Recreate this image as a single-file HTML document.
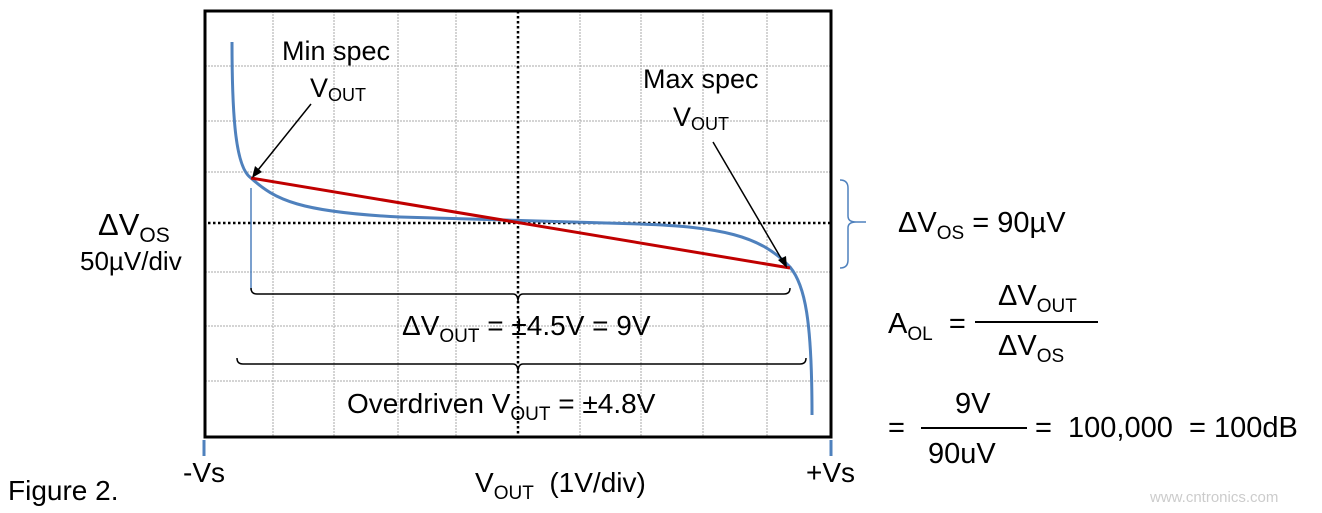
<!DOCTYPE html>
<html><head><meta charset="utf-8"><style>
body{margin:0;background:#fff;}
svg{display:block;font-family:"Liberation Sans",sans-serif;}
text{white-space:pre;}
</style></head><body>
<svg width="1322" height="513" viewBox="0 0 1322 513">
<rect width="1322" height="513" fill="#fff"/>
<g stroke="#aaa" stroke-width="1" stroke-dasharray="2,1">
<line x1="273" y1="11" x2="273" y2="436"/><line x1="334" y1="11" x2="334" y2="436"/>
<line x1="398" y1="11" x2="398" y2="436"/><line x1="456" y1="11" x2="456" y2="436"/>
<line x1="580" y1="11" x2="580" y2="436"/><line x1="641" y1="11" x2="641" y2="436"/>
<line x1="703" y1="11" x2="703" y2="436"/><line x1="767" y1="11" x2="767" y2="436"/>
<line x1="205" y1="66" x2="831" y2="66"/><line x1="205" y1="121" x2="831" y2="121"/>
<line x1="205" y1="172" x2="831" y2="172"/><line x1="205" y1="272" x2="831" y2="272"/>
<line x1="205" y1="326" x2="831" y2="326"/><line x1="205" y1="381" x2="831" y2="381"/>
</g>
<g stroke="#000" stroke-width="2.5" stroke-dasharray="2.5,2.5">
<line x1="518" y1="11" x2="518" y2="436"/><line x1="208" y1="223" x2="831" y2="223"/>
</g>
<rect x="205" y="11" width="626" height="426" fill="none" stroke="#000" stroke-width="3"/>
<line x1="204" y1="440" x2="204" y2="456" stroke="#4f81bd" stroke-width="3"/>
<line x1="831" y1="440" x2="831" y2="456" stroke="#4f81bd" stroke-width="3"/>
<line x1="251" y1="188" x2="251" y2="290" stroke="#4f81bd" stroke-width="1.5"/>
<path d="M232,42 C232,120 236,168 251,178 C275,200 300,212 400,217 C480,220 560,222 640,224 C720,227 760,235 790,267 C805,285 812,320 812,415" fill="none" stroke="#4f81bd" stroke-width="3"/>
<line x1="251" y1="178" x2="790" y2="268" stroke="#c00000" stroke-width="3"/>
<g fill="none" stroke="#000" stroke-width="1.5">
<path d="M251,288 q0,6 6,6 L513,294 q5,0 5,8 q0,-8 5,-8 L784,294 q6,0 6,-6"/>
<path d="M237,358 q0,6 6,6 L513,364 q5,0 5,8 q0,-8 5,-8 L800,364 q6,0 6,-6"/>
<line x1="311" y1="104" x2="254" y2="175"/>
<line x1="713" y1="142" x2="785" y2="265"/>
</g>
<path d="M252,178 l3,-12 l7,6 z" fill="#000"/>
<path d="M787,268 l-9,-8 l8,-4 z" fill="#000"/>
<path d="M840,180 q8,0 8,8 v28 q0,6 8,6 h10 h-10 q-8,0 -8,6 v32 q0,8 -8,8" fill="none" stroke="#4f81bd" stroke-width="1.5"/>
<g fill="#000" font-size="27">
<text x="282" y="60">Min spec</text>
<text x="310" y="97">V<tspan font-size="18" dy="4">OUT</tspan></text>
<text x="643" y="88">Max spec</text>
<text x="673" y="126">V<tspan font-size="18" dy="4">OUT</tspan></text>
<text x="402" y="335" font-size="28">ΔV<tspan font-size="19" dy="7">OUT</tspan><tspan dy="-7"> = ±4.5V = 9V</tspan></text>
<text x="347" y="413" font-size="28">Overdriven V<tspan font-size="19" dy="7">OUT</tspan><tspan dy="-7"> = ±4.8V</tspan></text>
<text x="98" y="235" font-size="31">ΔV<tspan font-size="21" dy="7">OS</tspan></text>
<text x="80" y="270" font-size="26">50µV/div</text>
<text x="183" y="482" font-size="28">-Vs</text>
<text x="806" y="482" font-size="28">+Vs</text>
<text x="475" y="492" font-size="28">V<tspan font-size="19" dy="7">OUT</tspan><tspan dy="-7">  (1V/div)</tspan></text>
<text x="8" y="500" font-size="28">Figure 2.</text>
<text x="898" y="232" font-size="29">ΔV<tspan font-size="19" dy="7">OS</tspan><tspan dy="-7"> = 90µV</tspan></text>
<text x="888" y="333" font-size="29">A<tspan font-size="19" dy="7">OL</tspan><tspan dy="-7">  =</tspan></text>
<text x="998" y="305" font-size="29">ΔV<tspan font-size="19" dy="7">OUT</tspan></text>
<text x="998" y="355" font-size="29">ΔV<tspan font-size="19" dy="7">OS</tspan></text>
<text x="888" y="437" font-size="29">=</text>
<text x="955" y="413" font-size="29">9V</text>
<text x="928" y="463" font-size="29">90uV</text>
<text x="1035" y="437" font-size="29">=  100,000  = 100dB</text>
<text x="1150" y="502" font-size="15" fill="#ccc">www.cntronics.com</text>
</g>
<line x1="975" y1="322" x2="1098" y2="322" stroke="#000" stroke-width="2"/>
<line x1="921" y1="428" x2="1027" y2="428" stroke="#000" stroke-width="2"/>
</svg>
</body></html>
